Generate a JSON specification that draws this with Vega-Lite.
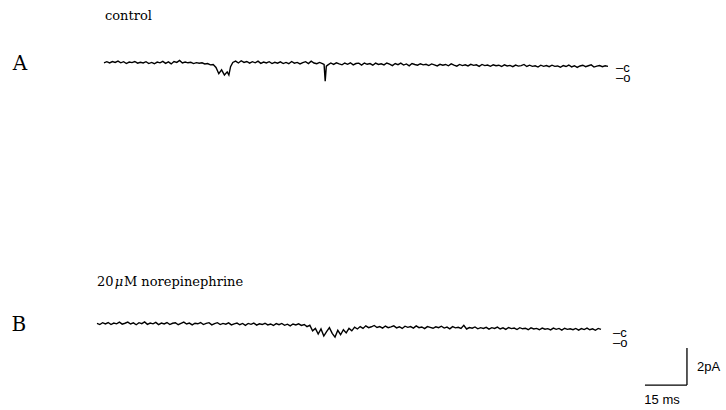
{
"$schema":"https://vega.github.io/schema/vega-lite/v6.json",
"padding":0,"spacing":0,"background":"white",
"config":{"view":{"stroke":null},"text":{"color":"black"}},
"datasets":{
"a":[{"t":0,"i":0.01},{"t":1,"i":0.07},{"t":2,"i":0.00},{"t":3,"i":0.08},{"t":4,"i":0.03},{"t":5,"i":0.10},{"t":6,"i":0.01},{"t":7,"i":0.07},{"t":8,"i":-0.03},{"t":9,"i":0.05},{"t":10,"i":0.02},{"t":11,"i":0.08},{"t":12,"i":-0.01},{"t":13,"i":0.04},{"t":14,"i":0.00},{"t":15,"i":0.07},{"t":16,"i":-0.03},{"t":17,"i":0.03},{"t":18,"i":-0.04},{"t":19,"i":0.05},{"t":20,"i":0.01},{"t":21,"i":0.09},{"t":22,"i":-0.02},{"t":23,"i":0.06},{"t":24,"i":-0.05},{"t":25,"i":0.08},{"t":26,"i":0.03},{"t":27,"i":0.14},{"t":28,"i":0.00},{"t":29,"i":0.05},{"t":30,"i":0.01},{"t":31,"i":0.04},{"t":32,"i":-0.03},{"t":33,"i":0.02},{"t":34,"i":-0.01},{"t":35,"i":0.01},{"t":36,"i":-0.05},{"t":37,"i":-0.03},{"t":38,"i":-0.10},{"t":39,"i":-0.08},{"t":40,"i":-0.24},{"t":41,"i":-0.58},{"t":42,"i":-0.37},{"t":43,"i":-0.65},{"t":44,"i":-0.48},{"t":44.6,"i":-0.65},{"t":45.2,"i":-0.20},{"t":46,"i":0.03},{"t":47,"i":0.10},{"t":48,"i":0.00},{"t":49,"i":0.12},{"t":50,"i":0.03},{"t":51,"i":0.08},{"t":52,"i":-0.01},{"t":53,"i":0.07},{"t":54,"i":0.01},{"t":55,"i":0.10},{"t":56,"i":-0.02},{"t":57,"i":0.05},{"t":58,"i":0.00},{"t":59,"i":0.07},{"t":60,"i":-0.03},{"t":61,"i":0.04},{"t":62,"i":-0.01},{"t":63,"i":0.06},{"t":64,"i":-0.03},{"t":65,"i":0.03},{"t":66,"i":-0.04},{"t":67,"i":0.08},{"t":68,"i":-0.01},{"t":69,"i":0.03},{"t":70,"i":-0.05},{"t":71,"i":0.02},{"t":72,"i":0.07},{"t":73,"i":-0.03},{"t":74,"i":0.10},{"t":75,"i":0.00},{"t":76,"i":-0.04},{"t":77,"i":0.03},{"t":78,"i":-0.03},{"t":78.6,"i":-0.08},{"t":79,"i":-0.98},{"t":79.4,"i":-0.17},{"t":80,"i":-0.10},{"t":81,"i":0.00},{"t":82,"i":-0.08},{"t":83,"i":0.01},{"t":84,"i":-0.05},{"t":85,"i":-0.10},{"t":86,"i":0.00},{"t":87,"i":-0.07},{"t":88,"i":0.01},{"t":89,"i":-0.10},{"t":90,"i":-0.03},{"t":91,"i":-0.01},{"t":92,"i":-0.11},{"t":93,"i":0.00},{"t":94,"i":-0.07},{"t":95,"i":-0.03},{"t":96,"i":-0.12},{"t":97,"i":-0.01},{"t":98,"i":-0.08},{"t":99,"i":-0.04},{"t":100,"i":-0.10},{"t":101,"i":0.00},{"t":102,"i":-0.06},{"t":103,"i":-0.14},{"t":104,"i":-0.03},{"t":105,"i":-0.09},{"t":106,"i":-0.01},{"t":107,"i":-0.11},{"t":108,"i":-0.05},{"t":109,"i":-0.15},{"t":110,"i":-0.03},{"t":111,"i":-0.08},{"t":112,"i":-0.12},{"t":113,"i":-0.04},{"t":114,"i":-0.10},{"t":115,"i":-0.07},{"t":116,"i":-0.14},{"t":117,"i":-0.05},{"t":118,"i":-0.10},{"t":119,"i":-0.16},{"t":120,"i":-0.07},{"t":121,"i":-0.12},{"t":122,"i":-0.08},{"t":123,"i":-0.15},{"t":124,"i":-0.05},{"t":125,"i":-0.12},{"t":126,"i":-0.17},{"t":127,"i":-0.08},{"t":128,"i":-0.14},{"t":129,"i":-0.10},{"t":130,"i":-0.16},{"t":131,"i":-0.07},{"t":132,"i":-0.13},{"t":133,"i":-0.10},{"t":134,"i":-0.18},{"t":135,"i":-0.08},{"t":136,"i":-0.14},{"t":137,"i":-0.11},{"t":138,"i":-0.18},{"t":139,"i":-0.10},{"t":140,"i":-0.15},{"t":141,"i":-0.12},{"t":142,"i":-0.19},{"t":143,"i":-0.10},{"t":144,"i":-0.16},{"t":145,"i":-0.13},{"t":146,"i":-0.20},{"t":147,"i":-0.11},{"t":148,"i":-0.17},{"t":149,"i":-0.14},{"t":150,"i":-0.08},{"t":151,"i":-0.19},{"t":152,"i":-0.12},{"t":153,"i":-0.18},{"t":154,"i":-0.15},{"t":155,"i":-0.22},{"t":156,"i":-0.12},{"t":157,"i":-0.18},{"t":158,"i":-0.14},{"t":159,"i":-0.20},{"t":160,"i":-0.12},{"t":161,"i":-0.18},{"t":162,"i":-0.16},{"t":163,"i":-0.23},{"t":164,"i":-0.14},{"t":165,"i":-0.19},{"t":166,"i":-0.11},{"t":167,"i":-0.21},{"t":168,"i":-0.15},{"t":169,"i":-0.24},{"t":170,"i":-0.16},{"t":171,"i":-0.12},{"t":172,"i":-0.20},{"t":173,"i":-0.15},{"t":174,"i":-0.10},{"t":175,"i":-0.22},{"t":176,"i":-0.17},{"t":177,"i":-0.14},{"t":178,"i":-0.20},{"t":179,"i":-0.15},{"t":180,"i":-0.18}],
"b":[{"t":0,"i":0.03},{"t":1,"i":-0.03},{"t":2,"i":0.07},{"t":3,"i":0.00},{"t":4,"i":0.08},{"t":5,"i":-0.03},{"t":6,"i":0.05},{"t":7,"i":0.01},{"t":8,"i":0.10},{"t":9,"i":-0.01},{"t":10,"i":0.04},{"t":11,"i":0.10},{"t":12,"i":0.00},{"t":13,"i":0.06},{"t":14,"i":-0.04},{"t":15,"i":0.07},{"t":16,"i":0.02},{"t":17,"i":0.11},{"t":18,"i":-0.02},{"t":19,"i":0.05},{"t":20,"i":0.01},{"t":21,"i":0.09},{"t":22,"i":-0.03},{"t":23,"i":0.05},{"t":24,"i":0.00},{"t":25,"i":0.08},{"t":26,"i":-0.03},{"t":27,"i":0.04},{"t":28,"i":0.07},{"t":29,"i":-0.04},{"t":30,"i":0.03},{"t":31,"i":0.10},{"t":32,"i":0.00},{"t":33,"i":0.05},{"t":34,"i":-0.05},{"t":35,"i":0.04},{"t":36,"i":0.01},{"t":37,"i":0.08},{"t":38,"i":-0.03},{"t":39,"i":0.03},{"t":40,"i":0.07},{"t":41,"i":-0.05},{"t":42,"i":0.02},{"t":43,"i":0.07},{"t":44,"i":-0.03},{"t":45,"i":0.03},{"t":46,"i":-0.01},{"t":47,"i":0.06},{"t":48,"i":-0.05},{"t":49,"i":0.01},{"t":50,"i":0.05},{"t":51,"i":-0.04},{"t":52,"i":0.03},{"t":53,"i":-0.07},{"t":54,"i":0.03},{"t":55,"i":-0.02},{"t":56,"i":0.05},{"t":57,"i":-0.06},{"t":58,"i":0.01},{"t":59,"i":-0.03},{"t":60,"i":0.04},{"t":61,"i":-0.05},{"t":62,"i":0.00},{"t":63,"i":-0.08},{"t":64,"i":0.02},{"t":65,"i":-0.04},{"t":66,"i":0.03},{"t":67,"i":-0.07},{"t":68,"i":-0.01},{"t":69,"i":-0.10},{"t":70,"i":0.00},{"t":71,"i":-0.05},{"t":72,"i":0.01},{"t":73,"i":-0.08},{"t":74,"i":-0.03},{"t":75,"i":-0.14},{"t":76,"i":-0.07},{"t":77,"i":-0.37},{"t":78,"i":-0.24},{"t":79,"i":-0.54},{"t":80,"i":-0.27},{"t":81,"i":-0.65},{"t":82,"i":-0.41},{"t":83,"i":-0.20},{"t":84,"i":-0.51},{"t":85,"i":-0.71},{"t":86,"i":-0.34},{"t":87,"i":-0.58},{"t":88,"i":-0.31},{"t":89,"i":-0.48},{"t":90,"i":-0.24},{"t":91,"i":-0.37},{"t":92,"i":-0.17},{"t":93,"i":-0.27},{"t":94,"i":-0.14},{"t":95,"i":-0.24},{"t":96,"i":-0.10},{"t":97,"i":-0.20},{"t":98,"i":-0.15},{"t":99,"i":-0.08},{"t":100,"i":-0.19},{"t":101,"i":-0.14},{"t":102,"i":-0.22},{"t":103,"i":-0.11},{"t":104,"i":-0.20},{"t":105,"i":-0.16},{"t":106,"i":-0.10},{"t":107,"i":-0.21},{"t":108,"i":-0.15},{"t":109,"i":-0.24},{"t":110,"i":-0.12},{"t":111,"i":-0.18},{"t":112,"i":-0.14},{"t":113,"i":-0.22},{"t":114,"i":-0.10},{"t":115,"i":-0.20},{"t":116,"i":-0.16},{"t":117,"i":-0.25},{"t":118,"i":-0.14},{"t":119,"i":-0.18},{"t":120,"i":-0.23},{"t":121,"i":-0.15},{"t":122,"i":-0.20},{"t":123,"i":-0.12},{"t":124,"i":-0.22},{"t":125,"i":-0.17},{"t":126,"i":-0.26},{"t":127,"i":-0.14},{"t":128,"i":-0.21},{"t":129,"i":-0.18},{"t":130,"i":-0.24},{"t":131,"i":-0.07},{"t":132,"i":-0.27},{"t":133,"i":-0.19},{"t":134,"i":-0.23},{"t":135,"i":-0.16},{"t":136,"i":-0.26},{"t":137,"i":-0.20},{"t":138,"i":-0.24},{"t":139,"i":-0.18},{"t":140,"i":-0.28},{"t":141,"i":-0.20},{"t":142,"i":-0.24},{"t":143,"i":-0.17},{"t":144,"i":-0.27},{"t":145,"i":-0.21},{"t":146,"i":-0.29},{"t":147,"i":-0.19},{"t":148,"i":-0.25},{"t":149,"i":-0.22},{"t":150,"i":-0.30},{"t":151,"i":-0.20},{"t":152,"i":-0.26},{"t":153,"i":-0.23},{"t":154,"i":-0.31},{"t":155,"i":-0.21},{"t":156,"i":-0.27},{"t":157,"i":-0.24},{"t":158,"i":-0.31},{"t":159,"i":-0.22},{"t":160,"i":-0.28},{"t":161,"i":-0.25},{"t":162,"i":-0.32},{"t":163,"i":-0.22},{"t":164,"i":-0.29},{"t":165,"i":-0.24},{"t":166,"i":-0.33},{"t":167,"i":-0.23},{"t":168,"i":-0.29},{"t":169,"i":-0.26},{"t":170,"i":-0.31},{"t":171,"i":-0.24},{"t":172,"i":-0.33},{"t":173,"i":-0.25},{"t":174,"i":-0.30},{"t":175,"i":-0.22},{"t":176,"i":-0.31},{"t":177,"i":-0.26},{"t":178,"i":-0.34},{"t":179,"i":-0.24},{"t":180,"i":-0.29}]
},
"vconcat":[
{"width":726,"height":205,
"layer":[
{"data":{"name":"a"},"mark":{"type":"line","color":"black","strokeWidth":1.4},
"encoding":{"x":{"field":"t","type":"quantitative","scale":{"domain":[-37.143,222.143],"nice":false,"zero":false},"axis":null},
"y":{"field":"i","type":"quantitative","scale":{"domain":[-7.676,3.405],"nice":false,"zero":false},"axis":null}}},
{"data":{"values":[{}]},"mark":{"type":"text","text":"A","font":"DejaVu Serif","fontSize":20,"align":"center","baseline":"middle"},
"encoding":{"x":{"datum":-30,"type":"quantitative"},"y":{"datum":-0.05,"type":"quantitative"}}},
{"data":{"values":[{}]},"mark":{"type":"text","text":"control","font":"DejaVu Serif","fontSize":13,"align":"left","baseline":"middle"},
"encoding":{"x":{"datum":0.36,"type":"quantitative"},"y":{"datum":2.54,"type":"quantitative"}}},
{"data":{"values":[{}]},"mark":{"type":"text","text":["–c","–o"],"lineHeight":10,"font":"Liberation Sans","fontSize":13,"align":"left","baseline":"middle"},
"encoding":{"x":{"datum":182.9,"type":"quantitative"},"y":{"datum":-0.27,"type":"quantitative"}}}
]},
{"width":726,"height":205,
"layer":[
{"data":{"name":"b"},"mark":{"type":"line","color":"black","strokeWidth":1.4},
"encoding":{"x":{"field":"t","type":"quantitative","scale":{"domain":[-34.643,224.643],"nice":false,"zero":false},"axis":null},
"y":{"field":"i","type":"quantitative","scale":{"domain":[-4.649,6.432],"nice":false,"zero":false},"axis":null}}},
{"data":{"values":[{}]},"mark":{"type":"text","text":"B","font":"DejaVu Serif","fontSize":20,"align":"center","baseline":"middle"},
"encoding":{"x":{"datum":-27.9,"type":"quantitative"},"y":{"datum":-0.05,"type":"quantitative"}}},
{"data":{"values":[{}]},"mark":{"type":"text","text":"20","font":"DejaVu Serif","fontSize":13,"align":"left","baseline":"middle"},
"encoding":{"x":{"datum":0,"type":"quantitative"},"y":{"datum":2.27,"type":"quantitative"}}},
{"data":{"values":[{}]},"mark":{"type":"text","text":"μ","font":"DejaVu Serif","fontStyle":"italic","fontSize":13,"align":"left","baseline":"middle"},
"encoding":{"x":{"datum":6.3,"type":"quantitative"},"y":{"datum":2.27,"type":"quantitative"}}},
{"data":{"values":[{}]},"mark":{"type":"text","text":"M norepinephrine","font":"DejaVu Serif","fontSize":13,"align":"left","baseline":"middle"},
"encoding":{"x":{"datum":9.6,"type":"quantitative"},"y":{"datum":2.27,"type":"quantitative"}}},
{"data":{"values":[{}]},"mark":{"type":"text","text":["–c","–o"],"lineHeight":10,"font":"Liberation Sans","fontSize":13,"align":"left","baseline":"middle"},
"encoding":{"x":{"datum":184.3,"type":"quantitative"},"y":{"datum":-0.47,"type":"quantitative"}}},
{"data":{"values":[{}]},"mark":{"type":"rule","color":"black","strokeWidth":1.3},
"encoding":{"x":{"datum":210.7,"type":"quantitative"},"y":{"datum":-1.30,"type":"quantitative"},"y2":{"datum":-3.30}}},
{"data":{"values":[{}]},"mark":{"type":"rule","color":"black","strokeWidth":1.3},
"encoding":{"x":{"datum":195.7,"type":"quantitative"},"x2":{"datum":210.7},"y":{"datum":-3.30,"type":"quantitative"}}},
{"data":{"values":[{}]},"mark":{"type":"text","text":"2pA","font":"Liberation Sans","fontSize":13,"align":"left","baseline":"middle"},
"encoding":{"x":{"datum":214.3,"type":"quantitative"},"y":{"datum":-2.32,"type":"quantitative"}}},
{"data":{"values":[{}]},"mark":{"type":"text","text":"15 ms","font":"Liberation Sans","fontSize":13,"align":"center","baseline":"middle"},
"encoding":{"x":{"datum":201.8,"type":"quantitative"},"y":{"datum":-4.1,"type":"quantitative"}}}
]}
]
}
